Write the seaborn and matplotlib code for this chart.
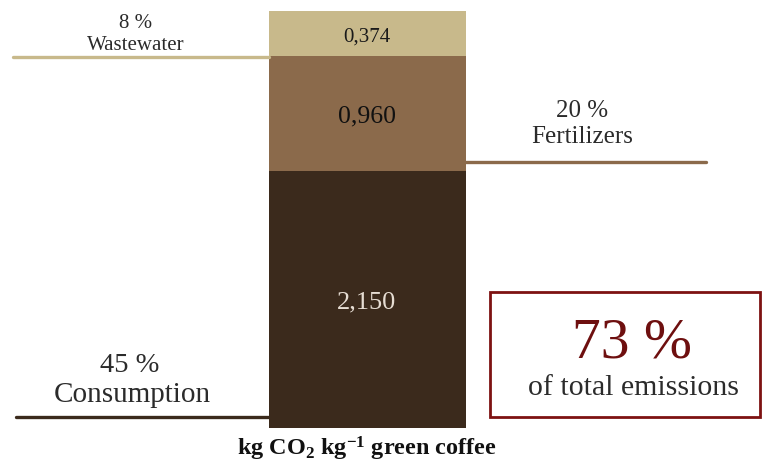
import matplotlib
matplotlib.use("Agg")
import matplotlib.pyplot as plt
import matplotlib.patches as mpatches
import pandas as pd
import seaborn as sns

# stacked segments, bottom to top
sources = ["Consumption", "Fertilizers", "Wastewater"]
values = [2.150, 0.960, 0.374]
shares = ["45 %", "20 %", "8 %"]
colors = ["#3b2a1c", "#8b6a4b", "#c8b98b"]
total_share = "73 %"
bar_label = "kg CO$_2$ kg$^{-1}$ green coffee"

sns.set_theme(style="white")
plt.rcParams["font.family"] = ["Liberation Serif", "DejaVu Serif"]
plt.rcParams["mathtext.fontset"] = "custom"
plt.rcParams["mathtext.rm"] = "Liberation Serif:bold"
plt.rcParams["mathtext.it"] = "Liberation Serif:bold"
plt.rcParams["mathtext.bf"] = "Liberation Serif:bold"

W, H = 765, 462
fig = plt.figure(figsize=(W / 100, H / 100), dpi=100)
ax = fig.add_axes([0, 0, 1, 1])

# cumulative tops, drawn largest first so they stack
cum = []
s = 0
for v in values:
    s += v
    cum.append(s)
df = pd.DataFrame({"bar": ["total"] * 3, "top": cum, "source": sources})
for i in reversed(range(3)):
    sns.barplot(data=df.iloc[[i]], x="bar", y="top", color=colors[i],
                width=0.8, linewidth=0, saturation=1, ax=ax)

# map data to pixel layout: y=0 at 428px from top, ~119.7 px per unit
ppu = 119.7
ax.set_ylim(-(H - 428) / ppu, 428 / ppu)
xppu = 197 / 0.8
ax.set_xlim(-367 / xppu, (W - 367) / xppu)
ax.axis("off")

def fx(px):
    return px / W

def fy(py):
    # small nudge so the visual centre of serif text lands on py
    return 1 - (py + 3) / H

# segment value labels
label_cols = ["#e6ddd3", "#111111", "#1a1a1a"]
label_size = [19, 18.5, 15]
base = 0
for v, c, fs in zip(values, label_cols, label_size):
    ax.text(0, base + v / 2 - 0.03, f"{v:.3f}".replace(".", ","), ha="center",
            va="center", fontsize=fs, color=c)
    base += v

txt = "#2b2b2b"
# leader lines (pixel rows from the top)
def hline(x0, x1, y, c):
    fig.add_artist(plt.Line2D([x0 / W, x1 / W], [1 - y / H, 1 - y / H], color=c, lw=2.4))

hline(13, 269, 57, colors[2])
hline(465, 706, 162, colors[1])
hline(16, 269, 417, colors[0])

# side labels
fig.text(fx(136), fy(20), shares[2], ha="center", va="center", fontsize=15, color=txt)
fig.text(fx(136), fy(42), sources[2], ha="center", va="center", fontsize=15, color=txt)
fig.text(fx(582), fy(108), shares[1], ha="center", va="center", fontsize=18, color=txt)
fig.text(fx(582), fy(134), sources[1], ha="center", va="center", fontsize=18, color=txt)
fig.text(fx(130), fy(362), shares[0], ha="center", va="center", fontsize=20.5, color=txt)
fig.text(fx(132), fy(392), sources[0], ha="center", va="center", fontsize=21, color=txt)

# highlight box
box = mpatches.Rectangle((490 / W, 1 - 417 / H), (760 - 490) / W, (417 - 292) / H,
                         transform=fig.transFigure, fill=False, edgecolor="#7d1212", lw=2)
fig.add_artist(box)
fig.text(fx(632), fy(341), total_share, ha="center", va="center", fontsize=41.5, color="#6e0f0f")
fig.text(fx(633), fy(385), "of total emissions", ha="center", va="center", fontsize=21.5, color=txt)

fig.text(fx(367), fy(446), bar_label, ha="center", va="center", fontsize=17.5,
         fontweight="bold", color="#111111")

fig.savefig("out.png", dpi=100)
